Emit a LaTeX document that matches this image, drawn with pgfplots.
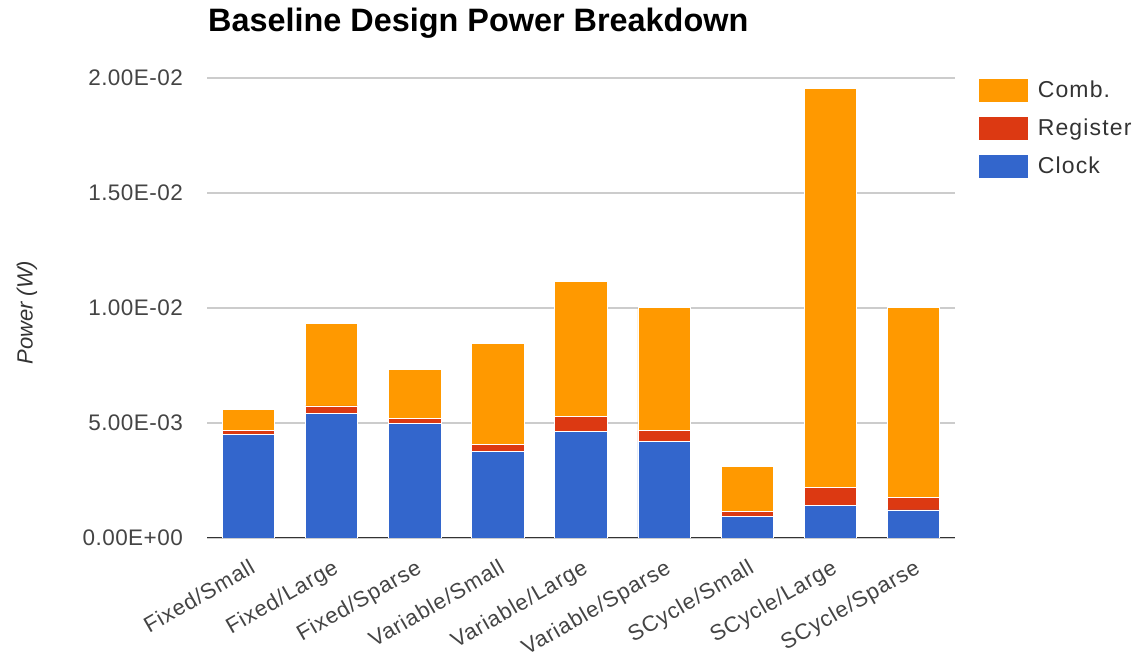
\documentclass[border=0pt]{standalone}
\usepackage{fontspec}
\setmainfont{Liberation Sans}
\newfontfamily\tickfont[LetterSpace=2]{Liberation Sans}
\newfontfamily\labfont[LetterSpace=4]{Liberation Sans}
\newfontfamily\legfont[LetterSpace=5]{Liberation Sans}
\usepackage{pgfplots}
\pgfplotsset{compat=1.18}
\usepackage{pgfplotstable}

\definecolor{clockblue}{HTML}{3366CC}
\definecolor{regred}{HTML}{DC3912}
\definecolor{combor}{HTML}{FF9900}
\definecolor{gridgray}{HTML}{CCCCCC}
\definecolor{labelgray}{HTML}{444444}
\definecolor{axisdark}{HTML}{333333}

% power per design (W)
\pgfplotstableread{
idx clock   reg     comb
0   0.00452 0.00015 0.00090
1   0.00542 0.00032 0.00359
2   0.00499 0.00021 0.00213
3   0.00375 0.00032 0.00439
4   0.00464 0.00063 0.00590
5   0.00419 0.00048 0.00534
6   0.00093 0.00024 0.00196
7   0.00140 0.00080 0.01735
8   0.00122 0.00053 0.00826
}\powertable

\begin{document}
\begin{tikzpicture}
\begin{axis}[
    at={(207pt,123pt)}, anchor=south west,
    scale only axis,
    width=748pt, height=460pt,
    ybar stacked, bar width=0.63,
    xmin=-0.5, xmax=8.5,
    ymin=0, ymax=0.02,
    enlargelimits=false,
    scaled y ticks=false,
    axis line style={draw=none},
    major tick length=0pt,
    tick style={draw=none},
    ymajorgrids,
    major grid style={gridgray, line width=1.3pt},
    xtick={0,...,8},
    xticklabels={Fixed/Small,Fixed/Large,Fixed/Sparse,Variable/Small,Variable/Large,Variable/Sparse,SCycle/Small,SCycle/Large,SCycle/Sparse},
    ytick={0,0.005,0.01,0.015,0.02},
    yticklabels={0.00E+00,5.00E-03,1.00E-02,1.50E-02,2.00E-02},
    yticklabel style={font=\tickfont\fontsize{22.5}{27}\selectfont, text=labelgray, anchor=east, inner sep=0pt, xshift=-24pt},
    xticklabel style={font=\labfont\fontsize{22}{26}\selectfont, text=labelgray, yshift=-20pt, rotate=30, anchor=north east, inner sep=0pt},
    ylabel={Power (W)},
    ylabel style={at={(axis description cs:-0.2406,0.49)}, anchor=center, font=\itshape\fontsize{22}{26}\selectfont, text=axisdark},
    title={Baseline Design Power Breakdown},
    title style={at={(axis description cs:0,1)}, anchor=base west, inner sep=0pt, xshift=1pt, yshift=40pt, font=\bfseries\fontsize{32.4}{38}\selectfont},
    reverse legend,
    legend image code/.code={\fill[#1] (0pt,-4.5pt) rectangle (50pt,19.5pt);},
    legend style={at={(axis description cs:1,1)}, anchor=north west, xshift=23pt,
        draw=none, fill=none, inner sep=0pt, outer sep=0pt, row sep=13pt,
        font=\legfont\fontsize{23}{27}\selectfont, text=axisdark,
        cells={anchor=base west}, nodes={inner sep=0pt},
        /tikz/every odd column/.append style={column sep=9pt}},
]
\addplot[fill=clockblue, draw=white, line width=0.8pt] table[x=idx, y=clock] {\powertable};
\addlegendentry{Clock}
\addplot[fill=regred, draw=white, line width=0.8pt] table[x=idx, y=reg] {\powertable};
\addlegendentry{Register}
\addplot[fill=combor, draw=white, line width=0.8pt] table[x=idx, y=comb] {\powertable};
\addlegendentry{Comb.}
\draw[axisdark, line width=1.7pt] (axis cs:-0.5,0) -- (axis cs:8.5,0);
\end{axis}
\pgfresetboundingbox
\useasboundingbox (0,0) rectangle (1137pt,661pt);
\end{tikzpicture}
\end{document}
